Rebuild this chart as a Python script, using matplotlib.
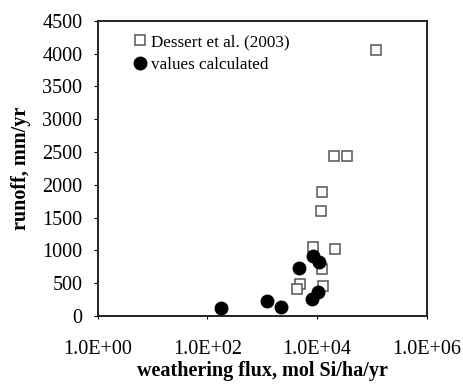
import numpy as np
import matplotlib
matplotlib.use("Agg")
import matplotlib.pyplot as plt

# Dessert et al. (2003)
dessert_flux = [1.18e5, 2.0e4, 3.5e4, 1.24e4, 1.2e4, 8.4e3, 2.1e4, 1.24e4, 4.9e3, 4.3e3, 1.3e4]
dessert_runoff = [4055, 2432, 2432, 1885, 1607, 1054, 1029, 725, 486, 415, 461]

# values calculated
calc_flux = [178, 1230, 2190, 4700, 8400, 1.1e4, 1.05e4, 8100]
calc_runoff = [117, 228, 132, 734, 922, 821, 369, 254]

xticks = [1e0, 1e2, 1e4, 1e6]
xticklabels = ["1.0E+00", "1.0E+02", "1.0E+04", "1.0E+06"]
yticks = [0, 500, 1000, 1500, 2000, 2500, 3000, 3500, 4000, 4500]

plt.rcParams['font.family'] = ['Liberation Serif', 'DejaVu Serif']

fig = plt.figure(figsize=(4.63, 3.85), dpi=100)
ax = fig.add_axes([0.211, 0.179, 0.7105, 0.767])

ax.plot(dessert_flux, dessert_runoff, 's', ms=7.4, mfc='white', mec='#555555',
        mew=1.1, label='Dessert et al. (2003)', zorder=2)
ax.plot(calc_flux, calc_runoff, 'o', ms=9, mfc='black', mec='black',
        label='values calculated', zorder=3)

ax.set_xscale('log')
ax.set_xlim(1e0, 1e6)
ax.set_ylim(0, 4500)
ax.set_xticks(xticks)
ax.set_xticklabels(xticklabels)
ax.set_yticks(yticks)
ax.minorticks_off()
ax.tick_params(axis='x', labelsize=14.5, pad=15, length=2, direction='out')
ax.tick_params(axis='y', labelsize=14.5, pad=8, length=3, direction='out')

for s in ax.spines.values():
    s.set_linewidth(1.4)
    s.set_color('#222222')

ax.set_xlabel('weathering flux, mol Si/ha/yr', fontsize=14.5, fontweight='bold', labelpad=2)
ax.set_ylabel('runoff, mm/yr', fontsize=14.5, fontweight='bold', labelpad=8)

ax.legend(loc='upper left', frameon=False, fontsize=12.3, handletextpad=0.3,
          handlelength=0.8, borderaxespad=0.3, labelspacing=0.4,
          bbox_to_anchor=(0.07, 0.995))

fig.savefig('out.png', dpi=100)
